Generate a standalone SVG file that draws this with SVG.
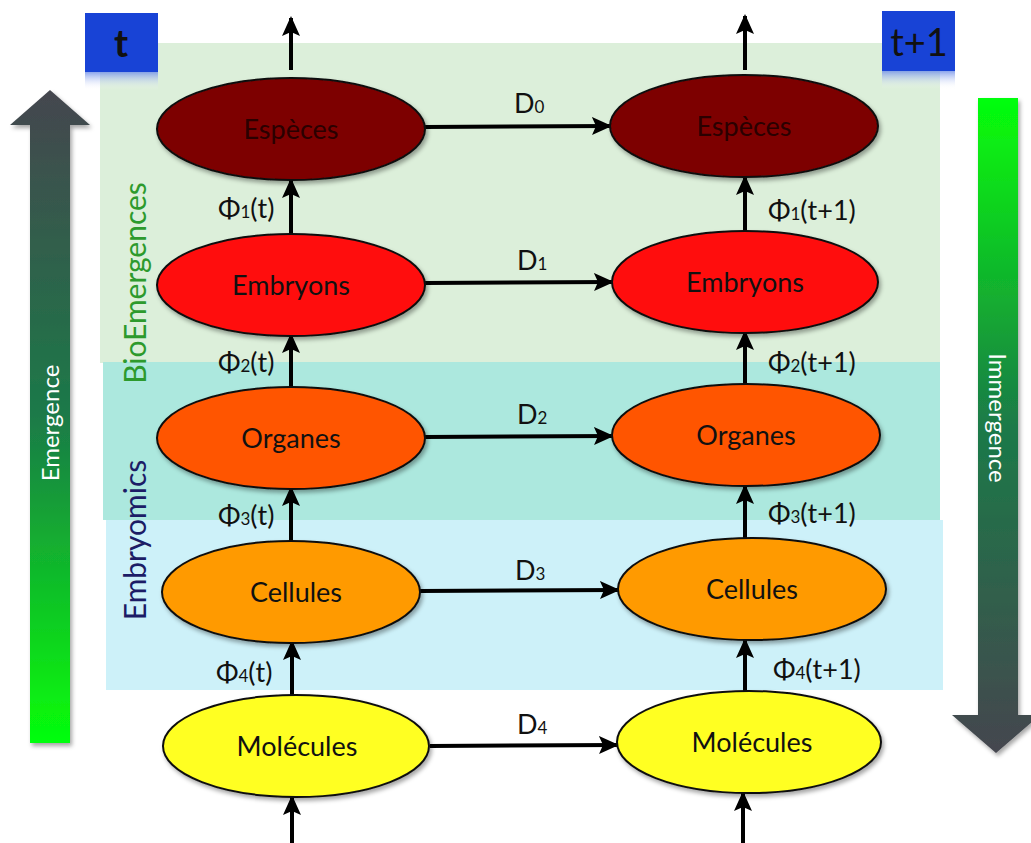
<svg xmlns="http://www.w3.org/2000/svg" width="1031" height="843" viewBox="0 0 1031 843">
<style>
.lbl{font-family:Lato,"Open Sans","Liberation Sans",sans-serif;font-size:27px;fill:#111}
.node{stroke:#111;stroke-width:2}
.ntext{font-family:Lato,"Open Sans","Liberation Sans",sans-serif;font-size:27px;fill:#111;text-anchor:middle}
.conn{stroke:#000;stroke-width:4;fill:none}
.sub{font-size:17px}
</style>
<defs>
<marker id="ah" markerUnits="userSpaceOnUse" markerWidth="20" markerHeight="20" viewBox="0 0 20 20" refX="18" refY="10" orient="auto">
<path d="M0,1 L20,10 L0,19 L4,10 z" fill="#000"/>
</marker>
<linearGradient id="gUp" x1="0" y1="0" x2="0" y2="1">
<stop offset="0" stop-color="#45464f"/>
<stop offset="0.5" stop-color="#1b7a48"/>
<stop offset="1" stop-color="#05ff0a"/>
</linearGradient>
<linearGradient id="gDown" x1="0" y1="0" x2="0" y2="1">
<stop offset="0" stop-color="#05ff0a"/>
<stop offset="0.5" stop-color="#1b7a48"/>
<stop offset="1" stop-color="#45464f"/>
</linearGradient>
<linearGradient id="refl" x1="0" y1="0" x2="0" y2="1">
<stop offset="0" stop-color="#6f8ee8" stop-opacity="0.8"/>
<stop offset="1" stop-color="#ffffff" stop-opacity="0"/>
</linearGradient>
<filter id="sh" x="-10%" y="-10%" width="130%" height="130%">
<feDropShadow dx="2" dy="3" stdDeviation="2" flood-color="#000" flood-opacity="0.35"/>
</filter>
</defs>
<rect width="1031" height="843" fill="#fff"/>
<!-- bands -->
<rect x="100" y="43" width="840" height="320" fill="#dcefda"/>
<rect x="103" y="362" width="837" height="158" fill="#ace8de"/>
<rect x="106" y="520" width="837" height="170" fill="#cdf1f9"/>
<!-- time boxes -->
<g id="box-t">
<rect x="85" y="72" width="73" height="18" fill="url(#refl)"/>
<rect x="85" y="13" width="73" height="59" fill="#1843d6"/>
<text x="121" y="57" font-family="Lato,'Open Sans','Liberation Sans',sans-serif" font-size="38" font-weight="bold" fill="#111" text-anchor="middle">t</text>
</g>
<g id="box-t1">
<rect x="882" y="71" width="73" height="18" fill="url(#refl)"/>
<rect x="882" y="11" width="73" height="60" fill="#1843d6"/>
<text x="919" y="56" font-family="Lato,'Open Sans','Liberation Sans',sans-serif" font-size="38" fill="#111" text-anchor="middle">t+1</text>
</g>
<!-- big arrows -->
<g id="emergence">
<path d="M30,743 L30,125 L10,125 L50,90 L90,125 L70,125 L70,743 z" fill="url(#gUp)" filter="url(#sh)"/>
<text transform="translate(59,423) rotate(-90)" font-family="Lato,'Open Sans','Liberation Sans',sans-serif" font-size="24" fill="#fff" text-anchor="middle">Emergence</text>
</g>
<g id="immergence">
<path d="M978,98 L1018,98 L1018,715 L1040,715 L996,753 L952,715 L978,715 z" fill="url(#gDown)" filter="url(#sh)"/>
<text transform="translate(989,418) rotate(90)" font-family="Lato,'Open Sans','Liberation Sans',sans-serif" font-size="24" fill="#fff" text-anchor="middle">Immergence</text>
</g>
<!-- band labels -->
<text transform="translate(146,283) rotate(-90)" font-family="Lato,'Open Sans','Liberation Sans',sans-serif" font-size="30" fill="#2d9a2d" text-anchor="middle">BioEmergences</text>
<text transform="translate(146,540) rotate(-90)" font-family="Lato,'Open Sans','Liberation Sans',sans-serif" font-size="30" fill="#1c1c66" text-anchor="middle">Embryomics</text>
<!-- connectors -->
<g id="connectors">
<line class="conn" x1="291" y1="70" x2="291" y2="18" marker-end="url(#ah)"/>
<line class="conn" x1="745" y1="70" x2="745" y2="16" marker-end="url(#ah)"/>
<line class="conn" x1="291" y1="235" x2="291" y2="180" marker-end="url(#ah)"/>
<line class="conn" x1="745" y1="232" x2="745" y2="177" marker-end="url(#ah)"/>
<line class="conn" x1="291" y1="388" x2="291" y2="335" marker-end="url(#ah)"/>
<line class="conn" x1="745" y1="385" x2="745" y2="332" marker-end="url(#ah)"/>
<line class="conn" x1="291" y1="541" x2="291" y2="488" marker-end="url(#ah)"/>
<line class="conn" x1="745" y1="538" x2="745" y2="486" marker-end="url(#ah)"/>
<line class="conn" x1="292" y1="695" x2="292" y2="642" marker-end="url(#ah)"/>
<line class="conn" x1="745" y1="691" x2="745" y2="640" marker-end="url(#ah)"/>
<line class="conn" x1="292" y1="843" x2="292" y2="797" marker-end="url(#ah)"/>
<line class="conn" x1="743" y1="843" x2="743" y2="793" marker-end="url(#ah)"/>
<line class="conn" x1="425" y1="127" x2="610" y2="126" marker-end="url(#ah)"/>
<line class="conn" x1="425" y1="283" x2="612" y2="282" marker-end="url(#ah)"/>
<line class="conn" x1="425" y1="437" x2="612" y2="436" marker-end="url(#ah)"/>
<line class="conn" x1="420" y1="591" x2="618" y2="590" marker-end="url(#ah)"/>
<line class="conn" x1="430" y1="746" x2="617" y2="745" marker-end="url(#ah)"/>
<text class="lbl" x="514" y="113">D<tspan class="sub">0</tspan></text>
<text class="lbl" x="517" y="270">D<tspan class="sub">1</tspan></text>
<text class="lbl" x="517" y="424">D<tspan class="sub">2</tspan></text>
<text class="lbl" x="515" y="580">D<tspan class="sub">3</tspan></text>
<text class="lbl" x="517" y="734">D<tspan class="sub">4</tspan></text>
<text class="lbl" x="218" y="218">Φ<tspan class="sub">1</tspan>(t)</text>
<text class="lbl" x="218" y="372">Φ<tspan class="sub">2</tspan>(t)</text>
<text class="lbl" x="218" y="525">Φ<tspan class="sub">3</tspan>(t)</text>
<text class="lbl" x="216" y="682">Φ<tspan class="sub">4</tspan>(t)</text>
<text class="lbl" x="768" y="220">Φ<tspan class="sub">1</tspan>(t+1)</text>
<text class="lbl" x="768" y="372">Φ<tspan class="sub">2</tspan>(t+1)</text>
<text class="lbl" x="768" y="523">Φ<tspan class="sub">3</tspan>(t+1)</text>
<text class="lbl" x="773" y="679">Φ<tspan class="sub">4</tspan>(t+1)</text>
</g>
<!-- nodes -->
<g id="especes-t"><ellipse class="node" cx="291" cy="129" rx="134" ry="51" fill="#7d0000" filter="url(#sh)"/><text class="ntext" x="291" y="139" style="fill:#2a0000">Espèces</text></g>
<g id="especes-t1"><ellipse class="node" cx="744" cy="126" rx="134" ry="51" fill="#7d0000" filter="url(#sh)"/><text class="ntext" x="744" y="136" style="fill:#2a0000">Espèces</text></g>
<g id="embryons-t"><ellipse class="node" cx="291" cy="285" rx="134" ry="51" fill="#ff1010" filter="url(#sh)"/><text class="ntext" x="291" y="295">Embryons</text></g>
<g id="embryons-t1"><ellipse class="node" cx="745" cy="282" rx="133" ry="51" fill="#ff1010" filter="url(#sh)"/><text class="ntext" x="745" y="292">Embryons</text></g>
<g id="organes-t"><ellipse class="node" cx="291" cy="438" rx="134" ry="51" fill="#ff5500" filter="url(#sh)"/><text class="ntext" x="291" y="448">Organes</text></g>
<g id="organes-t1"><ellipse class="node" cx="746" cy="435" rx="134" ry="51" fill="#ff5500" filter="url(#sh)"/><text class="ntext" x="746" y="445">Organes</text></g>
<g id="cellules-t"><ellipse class="node" cx="291" cy="592" rx="129" ry="51" fill="#ff9a00" filter="url(#sh)"/><text class="ntext" x="296" y="602">Cellules</text></g>
<g id="cellules-t1"><ellipse class="node" cx="752" cy="589" rx="134" ry="51" fill="#ff9a00" filter="url(#sh)"/><text class="ntext" x="752" y="599">Cellules</text></g>
<g id="molecules-t"><ellipse class="node" cx="296" cy="746" rx="133" ry="51" fill="#ffff22" filter="url(#sh)"/><text class="ntext" x="297" y="756">Molécules</text></g>
<g id="molecules-t1"><ellipse class="node" cx="749" cy="742" rx="132" ry="51" fill="#ffff22" filter="url(#sh)"/><text class="ntext" x="752" y="752">Molécules</text></g>
</svg>
